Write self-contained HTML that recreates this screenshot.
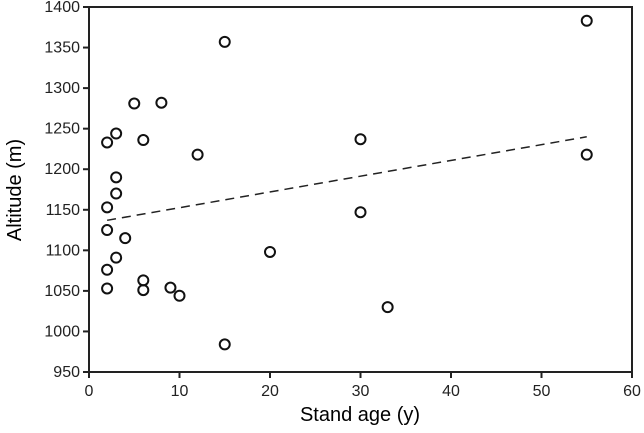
<!DOCTYPE html>
<html><head><meta charset="utf-8"><style>body{margin:0;background:#fff}svg{display:block;font-family:"Liberation Sans",sans-serif}</style></head>
<body>
<svg width="644" height="433">
<g id="axes"></g><g id="marks"></g>
<text x="360" y="421" font-size="20" text-anchor="middle">Stand age (y)</text>
<text transform="translate(21,190) rotate(-90)" font-size="20" text-anchor="middle">Altitude (m)</text>
</svg>
<script>
const ages=[2,3,5,8,6,12,15,3,3,2,2,4,3,2,2,6,6,9,10,15,20,30,30,33,55,55];
const alts=[1233,1244,1281,1282,1236,1218,1357,1190,1170,1153,1125,1115,1091,1076,1053,1063,1051,1054,1044,984,1098,1237,1147,1030,1383,1218];
const xTicks=[0,10,20,30,40,50,60];
const yTicks=[950,1000,1050,1100,1150,1200,1250,1300,1350,1400];
const trendX=[2,55];
const trendY=[1137,1240];
const X0=89,X1=632,Y0=372,Y1=7;
const sx=v=>X0+(v-0)/60*(X1-X0);
const sy=v=>Y0-(v-950)/450*(Y0-Y1);
const NS="http://www.w3.org/2000/svg";
const ax=document.getElementById('axes'),mk=document.getElementById('marks');
function mkEl(t,a,p){const e=document.createElementNS(NS,t);for(const k in a)e.setAttribute(k,a[k]);p.appendChild(e);return e;}
const fr=mkEl('rect',{x:X0,y:Y1,width:X1-X0,height:Y0-Y1,fill:'none',stroke:'#222','stroke-width':2},ax);


xTicks.forEach(t=>{
 const l=mkEl('line',{x1:sx(t),x2:sx(t),y1:Y0,y2:Y0+6,stroke:'#222','stroke-width':2},ax);
 
 
 const tx=mkEl('text',{x:sx(t),y:Y0+24,'font-size':16,'text-anchor':'middle',fill:'#222'},ax);tx.textContent=t;
 
 
});
yTicks.forEach(t=>{
 const l=mkEl('line',{x1:X0-6,x2:X0,y1:sy(t),y2:sy(t),stroke:'#222','stroke-width':2},ax);
 
 
 const tx=mkEl('text',{x:X0-9,y:sy(t)+5,'font-size':16,'text-anchor':'end',fill:'#222'},ax);tx.textContent=t;
 
 
});
const tl=mkEl('line',{x1:sx(trendX[0]),y1:sy(trendY[0]),x2:sx(trendX[1]),y2:sy(trendY[1]),stroke:'#222','stroke-width':1.5,'stroke-dasharray':'9,6'},mk);


ages.forEach((a,i)=>{
 const c=mkEl('circle',{cx:sx(a),cy:sy(alts[i]),r:5,fill:'none',stroke:'#111','stroke-width':2},mk);
 
 
});
</script>
</body></html>
